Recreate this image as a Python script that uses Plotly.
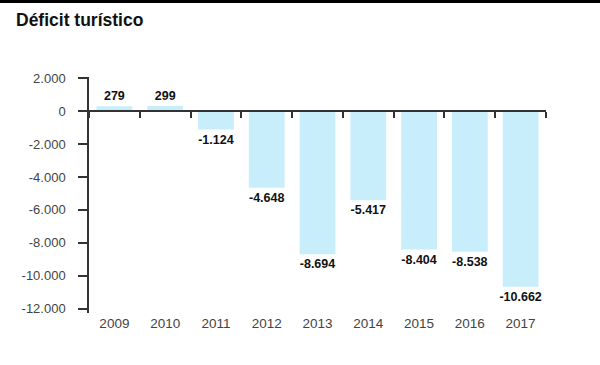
import plotly.graph_objects as go

years = ["2009", "2010", "2011", "2012", "2013", "2014", "2015", "2016", "2017"]
values = [279, 299, -1124, -4648, -8694, -5417, -8404, -8538, -10662]
labels = ["279", "299", "-1.124", "-4.648", "-8.694", "-5.417", "-8.404", "-8.538", "-10.662"]
y_tickvals = [2000, 0, -2000, -4000, -6000, -8000, -10000, -12000]
y_ticktext = ["2.000", "0", "-2.000", "-4.000", "-6.000", "-8.000", "-10.000", "-12.000"]

W, H = 600, 365
L, R, T, B = 89, 54, 77, 52
ymin, ymax = -12250, 2060
plot_h = H - T - B
plot_w = W - L - R
FONT = "Liberation Sans, Arial, sans-serif"

fig = go.Figure()
fig.add_trace(go.Bar(
    x=years, y=values,
    marker=dict(color="#c8eefb", line=dict(width=0)),
    text=["<b>%s</b>" % s for s in labels], textposition="outside",
    constraintext="none", cliponaxis=False,
    outsidetextfont=dict(family=FONT, size=12.5, color="#111111"),
    xaxis="x", yaxis="y",
))

# invisible trace so xaxis2 (zero line with boundary ticks) is drawn
fig.add_trace(go.Bar(x=years, y=[0] * len(years), xaxis="x2", yaxis="y",
                     marker=dict(color="rgba(0,0,0,0)"), hoverinfo="skip", showlegend=False))

zero_pos = (0 - ymin) / (ymax - ymin)

fig.update_layout(
    width=W, height=H,
    margin=dict(l=L, r=R, t=T, b=B, autoexpand=False),
    paper_bgcolor="white", plot_bgcolor="white",
    showlegend=False,
    bargap=0.295, barmode="overlay",
    title=dict(text="<b>Déficit turístico</b>", x=16 / W, xref="container", xanchor="left",
               y=1 - 14 / H, yref="container", yanchor="top", pad=dict(l=0, t=0),
               font=dict(family=FONT, size=17.5, color="#111111")),
    xaxis=dict(type="category", range=[-0.5, 8.5], showline=False, ticks="", showgrid=False,
               automargin=False,
               tickfont=dict(family=FONT, size=13.5, color="#444444")),
    xaxis2=dict(type="category", overlaying="x", matches="x", anchor="free", position=zero_pos,
                side="bottom", showline=True, linecolor="#333333", linewidth=1.5,
                ticks="outside", tickson="boundaries", ticklen=6, tickcolor="#333333", tickwidth=1.5,
                showticklabels=False, showgrid=False, automargin=False),
    yaxis=dict(range=[ymin, ymax], tickvals=y_tickvals, ticktext=y_ticktext,
               showline=True, linecolor="#333333", linewidth=1.5,
               ticks="outside", ticklen=9, tickcolor="#333333", tickwidth=1.5,
               showgrid=False, zeroline=False, automargin=False, ticklabelstandoff=10,
               tickfont=dict(family=FONT, size=13, color="#444444")),
)

# top black rule
fig.add_shape(type="rect", xref="paper", yref="paper",
              x0=-L / plot_w - 0.01, x1=1 + R / plot_w + 0.01,
              y0=1 + (T - 3) / plot_h, y1=1 + (T + 2) / plot_h,
              fillcolor="#000000", line=dict(width=0))

fig.write_html("out.html", config={"displayModeBar": False},
               post_script="document.body.style.margin='0';")
